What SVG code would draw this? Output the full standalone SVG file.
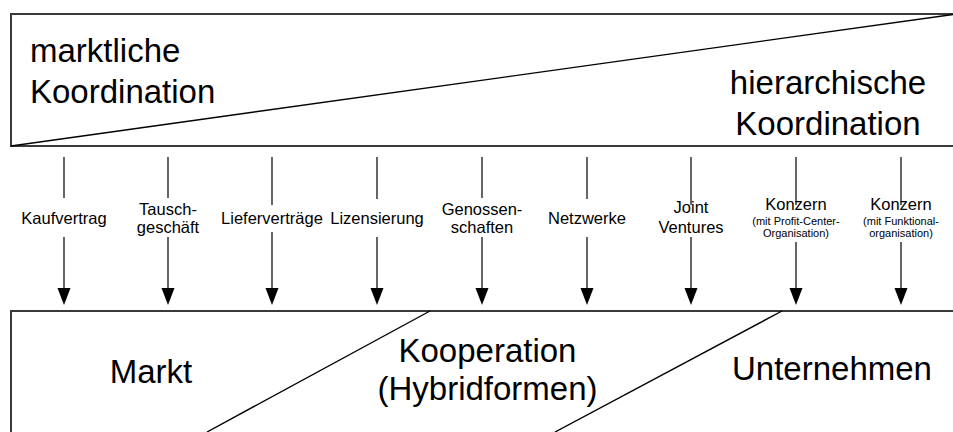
<svg xmlns="http://www.w3.org/2000/svg" width="953" height="432" viewBox="0 0 953 432">
<style>
.box{fill:none;stroke:#3a3a3a;stroke-width:2}
.diag{fill:none;stroke:#000;stroke-width:1.4}
.ln{stroke:#000;stroke-width:1.2;fill:none}
.head{fill:#000}
text{font-family:"Liberation Sans",Arial,sans-serif;fill:#000}
.big{font-size:33px}
.lbl{font-size:16.5px;text-anchor:middle}
.sm{font-size:11px;text-anchor:middle}
</style>
<rect width="953" height="432" fill="#fff"/>
<g id="koordination">
<path class="box" d="M960,14 H11 V146 H960"/>
<path class="diag" d="M11,146 L953,14.5"/>
<text class="big" x="30" y="62">marktliche</text>
<text class="big" x="30" y="103">Koordination</text>
<text class="big" x="828" y="94" text-anchor="middle">hierarchische</text>
<text class="big" x="828" y="135" text-anchor="middle">Koordination</text>
</g>
<g id="formen">
<path class="box" d="M960,311 H11 V440"/>
<path class="diag" d="M430,311 L207,432"/>
<path class="diag" d="M782,311 L555,432"/>
<text class="big" x="151" y="383" text-anchor="middle">Markt</text>
<text class="big" x="487.5" y="362" text-anchor="middle">Kooperation</text>
<text class="big" x="487.5" y="400" text-anchor="middle">(Hybridformen)</text>
<text class="big" x="832" y="380" text-anchor="middle">Unternehmen</text>
</g>
<g id="connectors">
<path class="ln" d="M64,157V198M64,237V290"/><path class="head" d="M57.5,288H70.5L64,305Z"/>
<path class="ln" d="M168,157V198M168,237V290"/><path class="head" d="M161.5,288H174.5L168,305Z"/>
<path class="ln" d="M272,157V205M272,232V290"/><path class="head" d="M265.5,288H278.5L272,305Z"/>
<path class="ln" d="M377,157V199M377,237V290"/><path class="head" d="M370.5,288H383.5L377,305Z"/>
<path class="ln" d="M482,157V198M482,237V290"/><path class="head" d="M475.5,288H488.5L482,305Z"/>
<path class="ln" d="M587,157V199M587,237V290"/><path class="head" d="M580.5,288H593.5L587,305Z"/>
<path class="ln" d="M691,157V205M691,237V290"/><path class="head" d="M684.5,288H697.5L691,305Z"/>
<path class="ln" d="M796,157V205M796,242V290"/><path class="head" d="M789.5,288H802.5L796,305Z"/>
<path class="ln" d="M901,157V205M901,242V290"/><path class="head" d="M894.5,288H907.5L901,305Z"/>
</g>
<g id="kaufvertrag"><text class="lbl" x="64" y="224">Kaufvertrag</text></g>
<g id="tauschgeschaeft"><text class="lbl" x="168" y="215">Tausch-</text><text class="lbl" x="168" y="233">geschäft</text></g>
<g id="liefervertraege"><text class="lbl" x="272" y="224">Lieferverträge</text></g>
<g id="lizensierung"><text class="lbl" x="377" y="224">Lizensierung</text></g>
<g id="genossenschaften"><text class="lbl" x="482" y="215">Genossen-</text><text class="lbl" x="482" y="233">schaften</text></g>
<g id="netzwerke"><text class="lbl" x="587" y="224">Netzwerke</text></g>
<g id="jointventures"><text class="lbl" x="691" y="213">Joint</text><text class="lbl" x="691" y="233">Ventures</text></g>
<g id="konzern1"><text class="lbl" x="796" y="210">Konzern</text><text class="sm" x="796" y="224.5">(mit Profit-Center-</text><text class="sm" x="796" y="236.5">Organisation)</text></g>
<g id="konzern2"><text class="lbl" x="901" y="210">Konzern</text><text class="sm" x="901" y="224.5">(mit Funktional-</text><text class="sm" x="901" y="236.5">organisation)</text></g>
</svg>
